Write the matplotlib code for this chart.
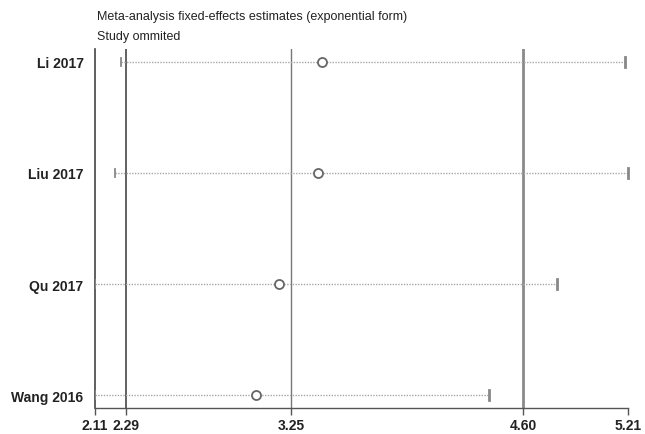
import matplotlib
matplotlib.use("Agg")
import matplotlib.pyplot as plt

plt.rcParams["font.family"] = ["Liberation Sans", "DejaVu Sans"]

# Study omitted and the resulting estimate with its 95% CI (exponential form)
studies = ["Li 2017", "Liu 2017", "Qu 2017", "Wang 2016"]
estimate = [3.43, 3.41, 3.18, 3.05]
lower = [2.26, 2.23, 2.11, 2.11]
upper = [5.19, 5.21, 4.80, 4.40]

# Reference lines: pooled lower CI, pooled estimate, pooled upper CI
ref_lines = [2.29, 3.25, 4.60]
ref_colors = ["#555555", "#777777", "#8a8a8a"]
ref_widths = [1.3, 1.0, 2.0]
tick_vals = [2.11, 2.29, 3.25, 4.60, 5.21]
tick_labels = ["2.11", "2.29", "3.25", "4.60", "5.21"]

fig = plt.figure(figsize=(6.45, 4.35), dpi=100)
ax = fig.add_axes([94.7 / 645, 1 - 409 / 435, (628 - 94.7) / 645, (409 - 50) / 435])

ypos = list(range(len(studies), 0, -1))

for x, c, w in zip(ref_lines, ref_colors, ref_widths):
    ax.axvline(x, color=c, lw=w, zorder=1)

for y, lo, hi, est in zip(ypos, lower, upper, estimate):
    ax.plot([lo, hi], [y, y], color="#a8a8a8", lw=1.0, ls=(0, (1, 1)), zorder=2)
    ax.plot([lo, lo], [y - 0.04, y + 0.04], color="#888888", lw=1.3, zorder=3)
    ax.plot([hi, hi], [y - 0.045, y + 0.045], color="#888888", lw=2.0, zorder=3,
            clip_on=False)
    ax.plot(est, y, marker="o", ms=6.5, mfc="white", mec="#666666", mew=1.3, zorder=4)

ax.set_xlim(2.11, 5.21)
ax.set_ylim(0.883, 4.117)

ax.spines["top"].set_visible(False)
ax.spines["right"].set_visible(False)
ax.spines["left"].set_color("#444444")
ax.spines["left"].set_linewidth(1.2)
ax.spines["bottom"].set_color("#555555")
ax.spines["bottom"].set_linewidth(1.0)

ax.set_xticks(tick_vals)
ax.set_xticklabels(tick_labels, fontsize=10, fontweight="bold", color="#222222")
ax.tick_params(axis="x", length=5, width=1.0, color="#555555", pad=2)

ax.set_yticks(ypos)
ax.set_yticklabels(studies, fontsize=10, fontweight="bold", color="#222222")
ax.tick_params(axis="y", length=0, pad=8)

fig.text(97 / 645, 1 - 17 / 435, "Meta-analysis fixed-effects estimates (exponential form)",
         fontsize=9, color="#222222", va="center")
fig.text(97 / 645, 1 - 37 / 435, "Study ommited", fontsize=9, color="#222222", va="center")

fig.savefig("out.png", dpi=100)
